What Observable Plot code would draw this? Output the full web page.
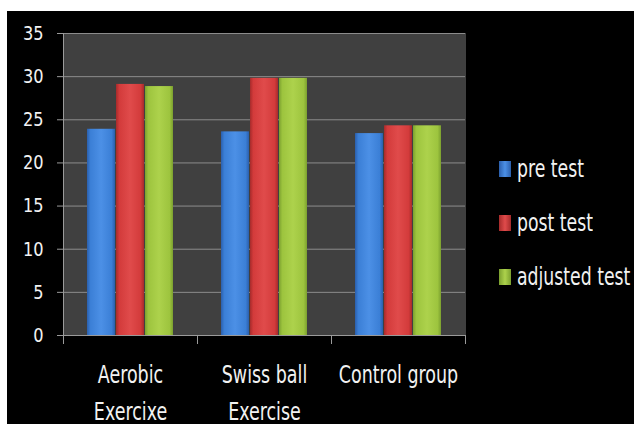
<!DOCTYPE html>
<html><head><meta charset="utf-8">
<script src="https://cdn.jsdelivr.net/npm/d3@7"></script>
<script src="https://cdn.jsdelivr.net/npm/@observablehq/plot@0.6"></script>
<style>
html,body{margin:0;padding:0;background:#fff;width:634px;height:424px;overflow:hidden;}
#wrap{position:absolute;left:7px;top:11px;width:627px;height:413px;background:#000;}
#chart svg{display:block;}
#legend{position:absolute;left:492px;top:131px;font-family:'DejaVu Sans Condensed','DejaVu Sans',sans-serif;font-stretch:condensed;font-size:24px;color:#f2f2f2;}
.row{line-height:54px;white-space:nowrap;}
.sw{display:inline-block;width:12px;height:16px;margin-right:6px;}
.lt{display:inline-block;transform:scaleX(0.8);transform-origin:left center;}
</style></head><body>
<div id="wrap"><div id="chart"></div><div id="legend"></div></div>
<script>
const groups = ["Aerobic Exercixe", "Swiss ball Exercise", "Control group"];
const groupLabels = ["Aerobic\nExercixe", "Swiss ball\nExercise", "Control group"];
const series = ["pre test", "post test", "adjusted test"];
const preTest = [23.9, 23.6, 23.4];
const postTest = [29.1, 29.8, 24.3];
const adjustedTest = [28.85, 29.8, 24.3];
const yTicks = [0, 5, 10, 15, 20, 25, 30, 35];
const baseColors = ["#3b7fd6", "#d33b3b", "#9dc43e"];
const darkColors = ["#2b5fac", "#a62b2b", "#7ba02f"];
const lightColors = ["#4c90e6", "#e04b4b", "#add24c"];

const values = [preTest, postTest, adjustedTest];
const data = groups.flatMap((g, i) => series.map((s, j) => ({group: g, series: s, value: values[j][i]})));

const axisStroke = "#9a9a9a";
const chart = Plot.plot({
  width: 627, height: 413,
  marginLeft: 56, marginRight: 169, marginTop: 22, marginBottom: 89,
  style: {background: "transparent", color: "#f2f2f2", fontFamily: "'DejaVu Sans Condensed','DejaVu Sans',sans-serif", overflow: "visible"},
  fx: {domain: groups, padding: 0, axis: null},
  x: {domain: series, paddingInner: 0.02, paddingOuter: 0.78, axis: null},
  y: {domain: [0, 35], axis: null},
  color: {domain: series, range: series.map((s, i) => `url(#grad${i})`)},
  marks: [
    Plot.frame({fill: "#404040", stroke: "#404040"}),
    Plot.gridY(yTicks.filter(d => d > 0), {stroke: "#8c8c8c", strokeOpacity: 1}),
    Plot.barY(data, {fx: "group", x: "series", y: "value", fill: "series"}),
    Plot.ruleY([0], {stroke: axisStroke}),
    Plot.frame({anchor: "left", stroke: axisStroke, facetAnchor: "left"}),
    Plot.frame({anchor: "left", insetTop: 302, insetBottom: -8, stroke: axisStroke}),
    Plot.frame({anchor: "right", insetTop: 302, insetBottom: -8, stroke: axisStroke}),
    Plot.axisY(yTicks, {tickSize: 6, tickPadding: 14, fontSize: 20, stroke: axisStroke, fill: "#f2f2f2", label: null}),
    Plot.axisFx({anchor: "bottom", tickSize: 0, tickPadding: 22, fontSize: 24, lineHeight: 1.52, fill: "#f2f2f2", label: null,
      tickFormat: d => groupLabels[groups.indexOf(d)]})
  ]
});

const svg = d3.select(chart);
const defs = svg.insert("defs", ":first-child");
series.forEach((s, i) => {
  const g = defs.append("linearGradient").attr("id", `grad${i}`).attr("x1", 0).attr("x2", 1).attr("y1", 0).attr("y2", 0);
  [[0, darkColors[i]], [0.12, baseColors[i]], [0.5, lightColors[i]], [0.88, baseColors[i]], [1, darkColors[i]]]
    .forEach(([o, c]) => g.append("stop").attr("offset", o).attr("stop-color", c));
});
// narrow the category labels horizontally (reference font is condensed)
function squeeze(el, s) {
  const t = el.getAttribute("transform") || "";
  const x = +el.getAttribute("x") || 0, y = +el.getAttribute("y") || 0;
  el.setAttribute("transform", `${t} translate(${x},${y}) scale(${s},1) translate(${-x},${-y})`);
}
svg.selectAll('g[aria-label="fx-axis tick label"] text').each(function() { squeeze(this, 0.81); });
svg.selectAll('g[aria-label="y-axis tick label"] text').each(function() { squeeze(this, 0.9); });
document.getElementById("chart").appendChild(chart);

const legend = d3.select("#legend");
series.forEach((s, i) => {
  const row = legend.append("div").attr("class", "row");
  row.append("span").attr("class", "sw")
    .style("background", `linear-gradient(to right, ${darkColors[i]}, ${lightColors[i]} 50%, ${darkColors[i]})`);
  row.append("span").attr("class", "lt").text(s);
});
</script>
</body></html>
